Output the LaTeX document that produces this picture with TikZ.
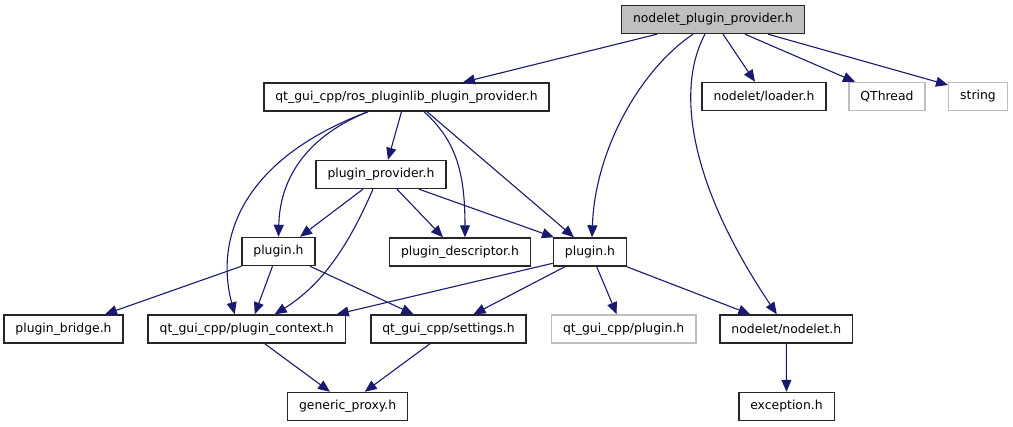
\documentclass[tikz,border=0pt]{standalone}
\usepackage{fontspec}
\setsansfont{DejaVu Sans}
\usepackage{tikz}
\usetikzlibrary{arrows.meta}
\definecolor{edgeblue}{HTML}{191970}
\definecolor{boxgray}{HTML}{BFBFBF}

\begin{document}
\begin{tikzpicture}[x=1pt, y=-1pt,
  file/.style={draw=black!85, line width=1.4pt, inner xsep=11.5pt, inner ysep=0pt,
    minimum height=28pt, font=\sffamily\fontsize{12.4}{14}\selectfont},
  sysfile/.style={file, draw=boxgray},
  mainfile/.style={file, fill=boxgray},
  dep/.style={-{Triangle[length=12pt,width=10pt]}, draw=edgeblue, line width=1.1pt}]
\useasboundingbox (0,0) rectangle (1013,427);
%
\node[mainfile] (top) at (713,19.5) {nodelet\_plugin\_provider.h};
\node[file] (ros) at (406.5,97) {qt\_gui\_cpp/ros\_pluginlib\_plugin\_provider.h};
\node[file] (loader) at (764,96.5) {nodelet/loader.h};
\node[sysfile] (qthread) at (887,96.5) {QThread};
\node[sysfile] (string) at (978,96.5) {string};
\node[file] (provider) at (381,174.5) {plugin\_provider.h};
\node[file] (pluginL) at (278.5,251.5) {plugin.h};
\node[file] (descriptor) at (460,252) {plugin\_descriptor.h};
\node[file] (pluginR) at (590,252) {plugin.h};
\node[file] (bridge) at (63.5,329) {plugin\_bridge.h};
\node[file] (context) at (246.7,329) {qt\_gui\_cpp/plugin\_context.h};
\node[file] (settings) at (448.5,329) {qt\_gui\_cpp/settings.h};
\node[sysfile] (qtplugin) at (623.7,329) {qt\_gui\_cpp/plugin.h};
\node[file] (nodelet) at (786.3,329) {nodelet/nodelet.h};
\node[file] (proxy) at (347.7,406.5) {generic\_proxy.h};
\node[file] (exception) at (786.5,406.5) {exception.h};

% top level includes
\draw[dep] ([xshift=-56pt]top.south) -- ([xshift=56.5pt]ros.north);
\draw[dep] ([xshift=10pt]top.south) -- ([xshift=-9pt]loader.north);
\draw[dep] ([xshift=32pt]top.south) -- ([xshift=-32pt]qthread.north);
\draw[dep] ([xshift=55pt]top.south) -- ([yshift=11.5pt]string.west);
\draw[dep] ([xshift=-20pt]top.south) .. controls (640,70) and (595,150) .. ([xshift=2pt]pluginR.north);
\draw[dep] ([xshift=-8pt]top.south) .. controls (680,80) and (680,170) .. ([xshift=-9.5pt]nodelet.north);

% ros_pluginlib_plugin_provider.h
\draw[dep] ([xshift=-5pt]ros.south) -- ([xshift=7pt]provider.north);
\draw[dep] ([xshift=-38.5pt]ros.south) .. controls (310,135) and (280,175) .. (pluginL.north);
\draw[dep] ([xshift=-38.5pt]ros.south) .. controls (240,160) and (215,240) .. ([xshift=-12pt]context.north);
\draw[dep] ([xshift=17.5pt]ros.south) .. controls (455,140) and (465,170) .. ([xshift=5pt]descriptor.north);
\draw[dep] ([xshift=20.5pt]ros.south) -- ([xshift=-16pt]pluginR.north);

% plugin_provider.h
\draw[dep] ([xshift=-18pt]provider.south) -- ([xshift=21.5pt]pluginL.north);
\draw[dep] ([xshift=-8pt]provider.south) .. controls (355,230) and (330,280) .. ([xshift=28pt]context.north);
\draw[dep] ([xshift=16pt]provider.south) -- ([xshift=-17pt]descriptor.north);
\draw[dep] ([xshift=38pt]provider.south) -- ([xshift=-36pt]pluginR.north);

% plugin.h (left)
\draw[dep] ([xshift=-37pt]pluginL.south) -- ([xshift=41.5pt]bridge.north);
\draw[dep] ([xshift=-6pt]pluginL.south) -- ([xshift=8pt]context.north);
\draw[dep] ([xshift=31.5pt]pluginL.south) -- ([xshift=-35pt]settings.north);

% plugin.h (right)
\draw[dep] ([yshift=-11.3pt]pluginR.west) -- ([xshift=90pt]context.north);
\draw[dep] ([xshift=-25pt]pluginR.south) -- ([xshift=25pt]settings.north);
\draw[dep] ([xshift=6.7pt]pluginR.south) -- ([xshift=-7pt]qtplugin.north);
\draw[dep] ([xshift=36.7pt]pluginR.south) -- ([xshift=-36pt]nodelet.north);

% bottom row
\draw[dep] (nodelet.south) -- (exception.north);
\draw[dep] ([xshift=18pt]context.south) -- ([xshift=-17.7pt]proxy.north);
\draw[dep] ([xshift=-18.5pt]settings.south) -- ([xshift=17pt]proxy.north);
%
\end{tikzpicture}
\end{document}
